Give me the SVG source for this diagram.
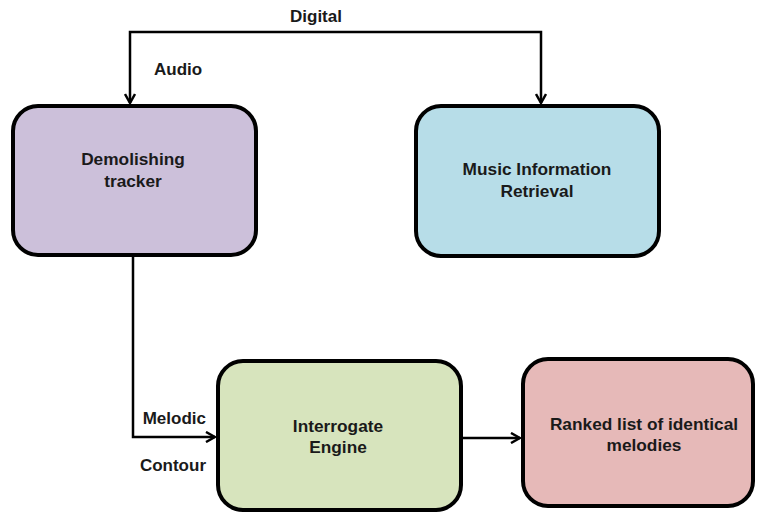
<svg xmlns="http://www.w3.org/2000/svg" width="757" height="513" viewBox="0 0 757 513">
<style>
.box{stroke:#000;stroke-width:4}
.lbl{font-family:"Liberation Sans",Arial,sans-serif;font-weight:bold;font-size:17.3px;fill:#1a1a1a;text-anchor:middle}
.elbl{font-family:"Liberation Sans",Arial,sans-serif;font-weight:bold;font-size:17px;fill:#1a1a1a}
.conn{fill:none;stroke:#000;stroke-width:2.5}
</style>
<defs>
<marker id="arr" viewBox="0 0 12 12" refX="11" refY="6" markerWidth="12" markerHeight="12" markerUnits="userSpaceOnUse" orient="auto">
<polyline points="2,1 11,6 2,11" fill="none" stroke="#000" stroke-width="2.5"/>
</marker>
</defs>
<rect width="757" height="513" fill="#fff"/>
<g id="connectors">
<polyline class="conn" points="316,32 130,32 130,103" marker-end="url(#arr)"/>
<polyline class="conn" points="316,32 541,32 541,103" marker-end="url(#arr)"/>
<polyline class="conn" points="133,256 133,437 215,437" marker-end="url(#arr)"/>
<line class="conn" x1="462" y1="438" x2="520" y2="438" marker-end="url(#arr)"/>
<text class="elbl" x="316" y="22" text-anchor="middle">Digital</text>
<text class="elbl" x="154" y="75">Audio</text>
<text class="elbl" x="206" y="424" text-anchor="end">Melodic</text>
<text class="elbl" x="206" y="471" text-anchor="end">Contour</text>
</g>
<g id="demolishing">
<rect class="box" x="13" y="106" width="243" height="149" rx="25" fill="#CCC0DA"/>
<text class="lbl" x="133" y="165">Demolishing</text>
<text class="lbl" x="133" y="187">tracker</text>
</g>
<g id="mir">
<rect class="box" x="416" y="106" width="243" height="150" rx="25" fill="#B7DDE8"/>
<text class="lbl" x="537" y="175">Music Information</text>
<text class="lbl" x="537" y="197">Retrieval</text>
</g>
<g id="engine">
<rect class="box" x="218" y="361" width="243" height="149" rx="25" fill="#D7E4BD"/>
<text class="lbl" x="338" y="432">Interrogate</text>
<text class="lbl" x="338" y="453">Engine</text>
</g>
<g id="ranked">
<rect class="box" x="523" y="359" width="230" height="147" rx="25" fill="#E6B9B8"/>
<text class="lbl" x="644" y="430">Ranked list of identical</text>
<text class="lbl" x="644" y="451">melodies</text>
</g>
</svg>
